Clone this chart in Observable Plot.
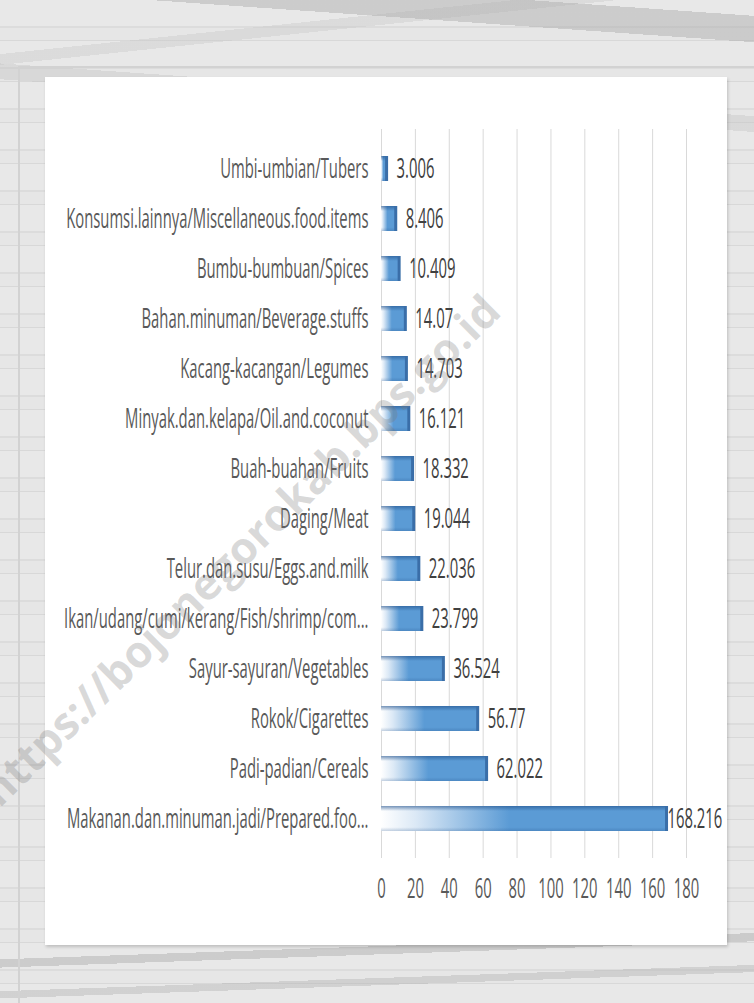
<!DOCTYPE html>
<html><head><meta charset="utf-8">
<script src="https://cdn.jsdelivr.net/npm/d3@7"></script>
<script src="https://cdn.jsdelivr.net/npm/@observablehq/plot@0.6"></script>
<style>
html,body{margin:0;padding:0}
body{width:754px;height:1003px;position:relative;overflow:hidden;font-family:"Open Sans",sans-serif;
background:
  linear-gradient(178deg, transparent 0 93.2%, rgba(170,170,170,.45) 93.2% 94%, transparent 94% 96.3%, rgba(175,175,175,.4) 96.3% 97%, transparent 97%),
  linear-gradient(184deg, transparent 0 1.5%, rgba(170,170,170,.45) 1.5% 4%, transparent 4% 11%, rgba(195,195,195,.4) 11% 12.5%, transparent 12.5%),
  linear-gradient(174deg, transparent 0 5%, rgba(200,200,200,.4) 5% 6%, transparent 6%),
  repeating-linear-gradient(180deg, #e8e8e8 0 26px, #dcdcdc 26px 28px, #e6e6e6 28px 40px, #d8d8d8 40px 41px),
  #e6e6e6;}
#frame{position:absolute;left:18px;top:66px;width:800px;height:960px;border-left:2px solid #d2d2d2;border-top:2px solid #d2d2d2;}
#panel{position:absolute;left:45px;top:77px;width:682px;height:868px;background:#fff;box-shadow:1px 2px 3px rgba(0,0,0,.18)}
#wm{position:absolute;left:0;top:0;pointer-events:none}
</style></head><body>
<div id="frame"></div>
<div id="panel"></div>
<svg id="wm" width="754" height="1003"><text x="243" y="553" text-anchor="middle" dominant-baseline="middle" transform="rotate(-44.5 243 553)" font-family="'Open Sans', sans-serif" font-weight="700" font-size="44" fill="rgba(120,120,120,0.28)">https://bojonegorokab.bps.go.id</text></svg>
<script>
const categories = [
  "Umbi-umbian/Tubers",
  "Konsumsi.lainnya/Miscellaneous.food.items",
  "Bumbu-bumbuan/Spices",
  "Bahan.minuman/Beverage.stuffs",
  "Kacang-kacangan/Legumes",
  "Minyak.dan.kelapa/Oil.and.coconut",
  "Buah-buahan/Fruits",
  "Daging/Meat",
  "Telur.dan.susu/Eggs.and.milk",
  "Ikan/udang/cumi/kerang/Fish/shrimp/com...",
  "Sayur-sayuran/Vegetables",
  "Rokok/Cigarettes",
  "Padi-padian/Cereals",
  "Makanan.dan.minuman.jadi/Prepared.foo..."
];
const values = [3.006, 8.406, 10.409, 14.07, 14.703, 16.121, 18.332, 19.044, 22.036, 23.799, 36.524, 56.77, 62.022, 168.216];
const xTicks = [0, 20, 40, 60, 80, 100, 120, 140, 160, 180];

const data = categories.map((c, i) => ({category: c, value: values[i]}));
const FS = 28, SX = 0.53;

const chart = Plot.plot({
  width: 682, height: 868,
  marginLeft: 336, marginRight: 41, marginTop: 52, marginBottom: 87,
  x: {domain: [0, 180], ticks: xTicks},
  y: {domain: categories, padding: 0.5},
  style: {fontFamily: "'Open Sans', sans-serif", color: "#595959", background: "transparent", overflow: "visible"},
  marks: [
    Plot.gridX(xTicks, {stroke: "#d9d9d9", strokeOpacity: 1, strokeWidth: 1}),
    Plot.barX(data, {x: "value", y: "category", fill: "url(#hgrad)"}),
    Plot.barX(data, {x: "value", y: "category", fill: "url(#vgrad)"}),
    Plot.tickX(data, {x: "value", y: "category", stroke: "#3a6ea8", strokeWidth: 3}),
    Plot.text(data.filter(d => d.value < 100), {x: "value", y: "category", text: d => String(d.value), textAnchor: "start", dx: 10, fontSize: FS, fill: "#404040"}),
    Plot.text(data.filter(d => d.value >= 100), {x: "value", y: "category", text: d => String(d.value), textAnchor: "start", dx: 1, fontSize: FS, fill: "#404040"}),
    Plot.axisX({ticks: xTicks, tickSize: 0, tickPadding: 20, fontSize: FS, label: null, fill: "#595959"}),
    Plot.axisY({tickSize: 0, tickPadding: 13, fontSize: FS, label: null, fill: "#595959"})
  ]
});

const NS = "http://www.w3.org/2000/svg";
const defs = document.createElementNS(NS, "defs");
defs.innerHTML = `
<linearGradient id="hgrad" x1="0" y1="0" x2="1" y2="0">
  <stop offset="0" stop-color="#ffffff"/>
  <stop offset="0.12" stop-color="#dce9f6"/>
  <stop offset="0.45" stop-color="#5b9bd5"/>
  <stop offset="1" stop-color="#5b9bd5"/>
</linearGradient>
<linearGradient id="vgrad" x1="0" y1="0" x2="0" y2="1">
  <stop offset="0" stop-color="#1f4f8a" stop-opacity="0.6"/>
  <stop offset="0.2" stop-color="#1f4f8a" stop-opacity="0"/>
  <stop offset="0.85" stop-color="#1f4f8a" stop-opacity="0"/>
  <stop offset="1" stop-color="#1f4f8a" stop-opacity="0.25"/>
</linearGradient>`;
chart.insertBefore(defs, chart.firstChild);

document.getElementById("panel").appendChild(chart);

// horizontally condense every text around its own anchor point
chart.querySelectorAll("text").forEach(t => {
  const parent = t.parentNode;
  const r = t.getBoundingClientRect();
  const anchor = getComputedStyle(t).textAnchor;
  const sx = anchor === "end" ? r.right : anchor === "middle" ? (r.left + r.right) / 2 : r.left;
  const p = chart.createSVGPoint();
  p.x = sx; p.y = r.top;
  const q = p.matrixTransform(parent.getScreenCTM().inverse());
  const g = document.createElementNS(NS, "g");
  g.setAttribute("transform", `translate(${q.x},0) scale(${SX},1) translate(${-q.x},0)`);
  parent.insertBefore(g, t);
  g.appendChild(t);
});
</script>
</body></html>
